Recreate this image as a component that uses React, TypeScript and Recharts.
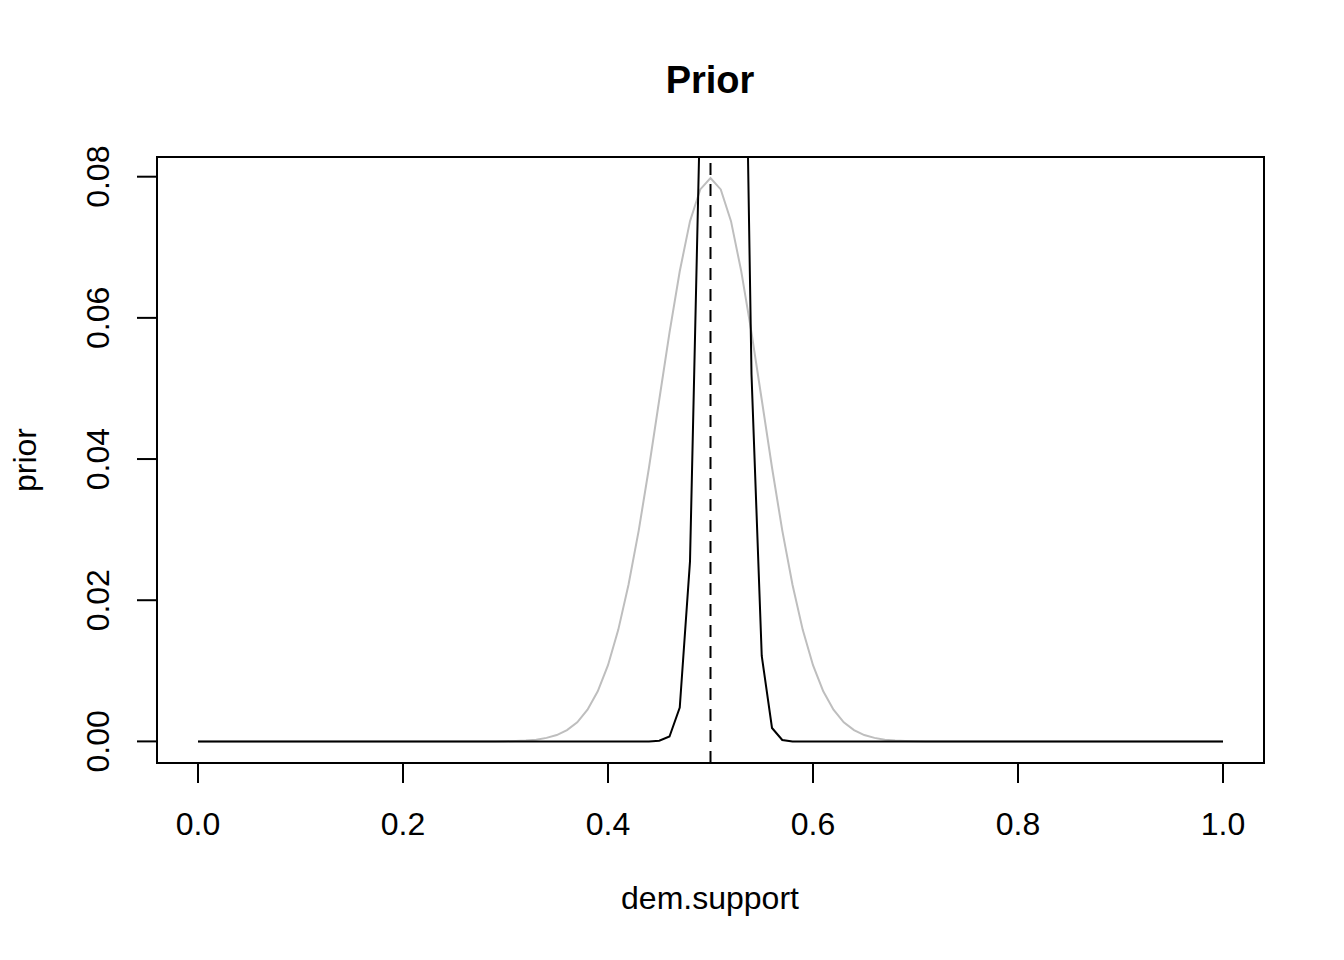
import { LineChart, Line, XAxis, YAxis, ReferenceLine, ReferenceArea } from "recharts";

// grid of dem.support values
const DEM_SUPPORT = [
  0.0, 0.01, 0.02, 0.03, 0.04, 0.05, 0.06, 0.07, 0.08, 0.09,
  0.1, 0.11, 0.12, 0.13, 0.14, 0.15, 0.16, 0.17, 0.18, 0.19,
  0.2, 0.21, 0.22, 0.23, 0.24, 0.25, 0.26, 0.27, 0.28, 0.29,
  0.3, 0.31, 0.32, 0.33, 0.34, 0.35, 0.36, 0.37, 0.38, 0.39,
  0.4, 0.41, 0.42, 0.43, 0.44, 0.45, 0.46, 0.47, 0.48, 0.49,
  0.5, 0.51, 0.52, 0.53, 0.54, 0.55, 0.56, 0.57, 0.58, 0.59,
  0.6, 0.61, 0.62, 0.63, 0.64, 0.65, 0.66, 0.67, 0.68, 0.69,
  0.7, 0.71, 0.72, 0.73, 0.74, 0.75, 0.76, 0.77, 0.78, 0.79,
  0.8, 0.81, 0.82, 0.83, 0.84, 0.85, 0.86, 0.87, 0.88, 0.89,
  0.9, 0.91, 0.92, 0.93, 0.94, 0.95, 0.96, 0.97, 0.98, 0.99,
  1.0,
];

// grey curve (prior)
const PRIOR = [
  0, 0, 0, 0, 0, 0, 0, 0, 0, 0,
  0, 0, 0, 0, 0, 0, 0, 0, 0, 0,
  0, 0, 0, 0, 0, 0, 0, 0, 0, 0,
  0.00003, 0.00006, 0.00012, 0.00025, 0.0005, 0.0009, 0.0016, 0.0027, 0.0045, 0.0071,
  0.0108, 0.0158, 0.0222, 0.0299, 0.0388, 0.0484, 0.0579, 0.0666, 0.0737, 0.0782,
  0.0798, 0.0782, 0.0737, 0.0666, 0.0579, 0.0484, 0.0388, 0.0299, 0.0222, 0.0158,
  0.0108, 0.0071, 0.0045, 0.0027, 0.0016, 0.0009, 0.0005, 0.00025, 0.00012, 0.00006,
  0.00003, 0, 0, 0, 0, 0, 0, 0, 0, 0,
  0, 0, 0, 0, 0, 0, 0, 0, 0, 0,
  0, 0, 0, 0, 0, 0, 0, 0, 0, 0,
  0,
];

// black curve (goes off the top of the plot)
const POSTERIOR = [
  0, 0, 0, 0, 0, 0, 0, 0, 0, 0,
  0, 0, 0, 0, 0, 0, 0, 0, 0, 0,
  0, 0, 0, 0, 0, 0, 0, 0, 0, 0,
  0, 0, 0, 0, 0, 0, 0, 0, 0, 0,
  0, 0, 0, 0, 0, 0.0001, 0.0007, 0.0048, 0.0255, 0.0905,
  0.19, 0.26, 0.23, 0.142, 0.052, 0.0121, 0.0019, 0.0002, 0, 0,
  0, 0, 0, 0, 0, 0, 0, 0, 0, 0,
  0, 0, 0, 0, 0, 0, 0, 0, 0, 0,
  0, 0, 0, 0, 0, 0, 0, 0, 0, 0,
  0, 0, 0, 0, 0, 0, 0, 0, 0, 0,
  0,
];

const X_TICKS = [0, 0.2, 0.4, 0.6, 0.8, 1.0];
const Y_TICKS = [0, 0.02, 0.04, 0.06, 0.08];
const VLINE_AT = 0.5;

const X_DOMAIN: [number, number] = [-0.04, 1.04];
const Y_DOMAIN: [number, number] = [-0.00306, 0.08279];

const FONT = "'Liberation Sans', Arial, Helvetica, sans-serif";

const data = DEM_SUPPORT.map((x, i) => ({ x, prior: PRIOR[i], posterior: POSTERIOR[i] }));

function YTick({ x, y, payload }: any) {
  return (
    <text
      x={x}
      y={y}
      transform={`rotate(-90, ${x}, ${y})`}
      textAnchor="middle"
      fontSize={32}
      fontFamily={FONT}
      fill="#000"
    >
      {Number(payload.value).toFixed(2)}
    </text>
  );
}

export default function App() {
  return (
    <div style={{ position: "absolute", left: 0, top: 0, width: 1344, height: 960, background: "#fff" }}>
      <LineChart
        width={1344}
        height={960}
        data={data}
        margin={{ top: 157, right: 80, bottom: 137, left: 77 }}
      >
        <XAxis
          type="number"
          dataKey="x"
          domain={X_DOMAIN}
          ticks={X_TICKS}
          allowDataOverflow
          height={60}
          axisLine={false}
          tickSize={20}
          tickMargin={29}
          tickLine={{ stroke: "#000", strokeWidth: 2 }}
          tick={{ fill: "#000", fontSize: 32, fontFamily: FONT }}
          tickFormatter={(v: number) => v.toFixed(1)}
        />
        <YAxis
          type="number"
          domain={Y_DOMAIN}
          ticks={Y_TICKS}
          allowDataOverflow
          width={80}
          axisLine={false}
          tickSize={20}
          tickMargin={28}
          tickLine={{ stroke: "#000", strokeWidth: 2 }}
          tick={<YTick />}
        />
        <Line
          type="linear"
          dataKey="prior"
          stroke="#bebebe"
          strokeWidth={2}
          dot={false}
          isAnimationActive={false}
        />
        <Line
          type="linear"
          dataKey="posterior"
          stroke="#000"
          strokeWidth={2}
          dot={false}
          isAnimationActive={false}
        />
        <ReferenceLine x={VLINE_AT} stroke="#000" strokeWidth={2} strokeDasharray="12 9" />
        <ReferenceArea
          x1={X_DOMAIN[0]}
          x2={X_DOMAIN[1]}
          y1={Y_DOMAIN[0]}
          y2={Y_DOMAIN[1]}
          fill="none"
          fillOpacity={0}
          stroke="#000"
          strokeWidth={2}
        />
      </LineChart>
      <svg
        width={1344}
        height={960}
        style={{ position: "absolute", left: 0, top: 0, pointerEvents: "none" }}
      >
        <text x={710} y={93} textAnchor="middle" fontSize={38} fontWeight="bold" fontFamily={FONT} fill="#000">
          Prior
        </text>
        <text x={710} y={909} textAnchor="middle" fontSize={32} fontFamily={FONT} fill="#000">
          dem.support
        </text>
        <text
          x={36}
          y={460}
          transform="rotate(-90, 36, 460)"
          textAnchor="middle"
          fontSize={32}
          fontFamily={FONT}
          fill="#000"
        >
          prior
        </text>
      </svg>
    </div>
  );
}
